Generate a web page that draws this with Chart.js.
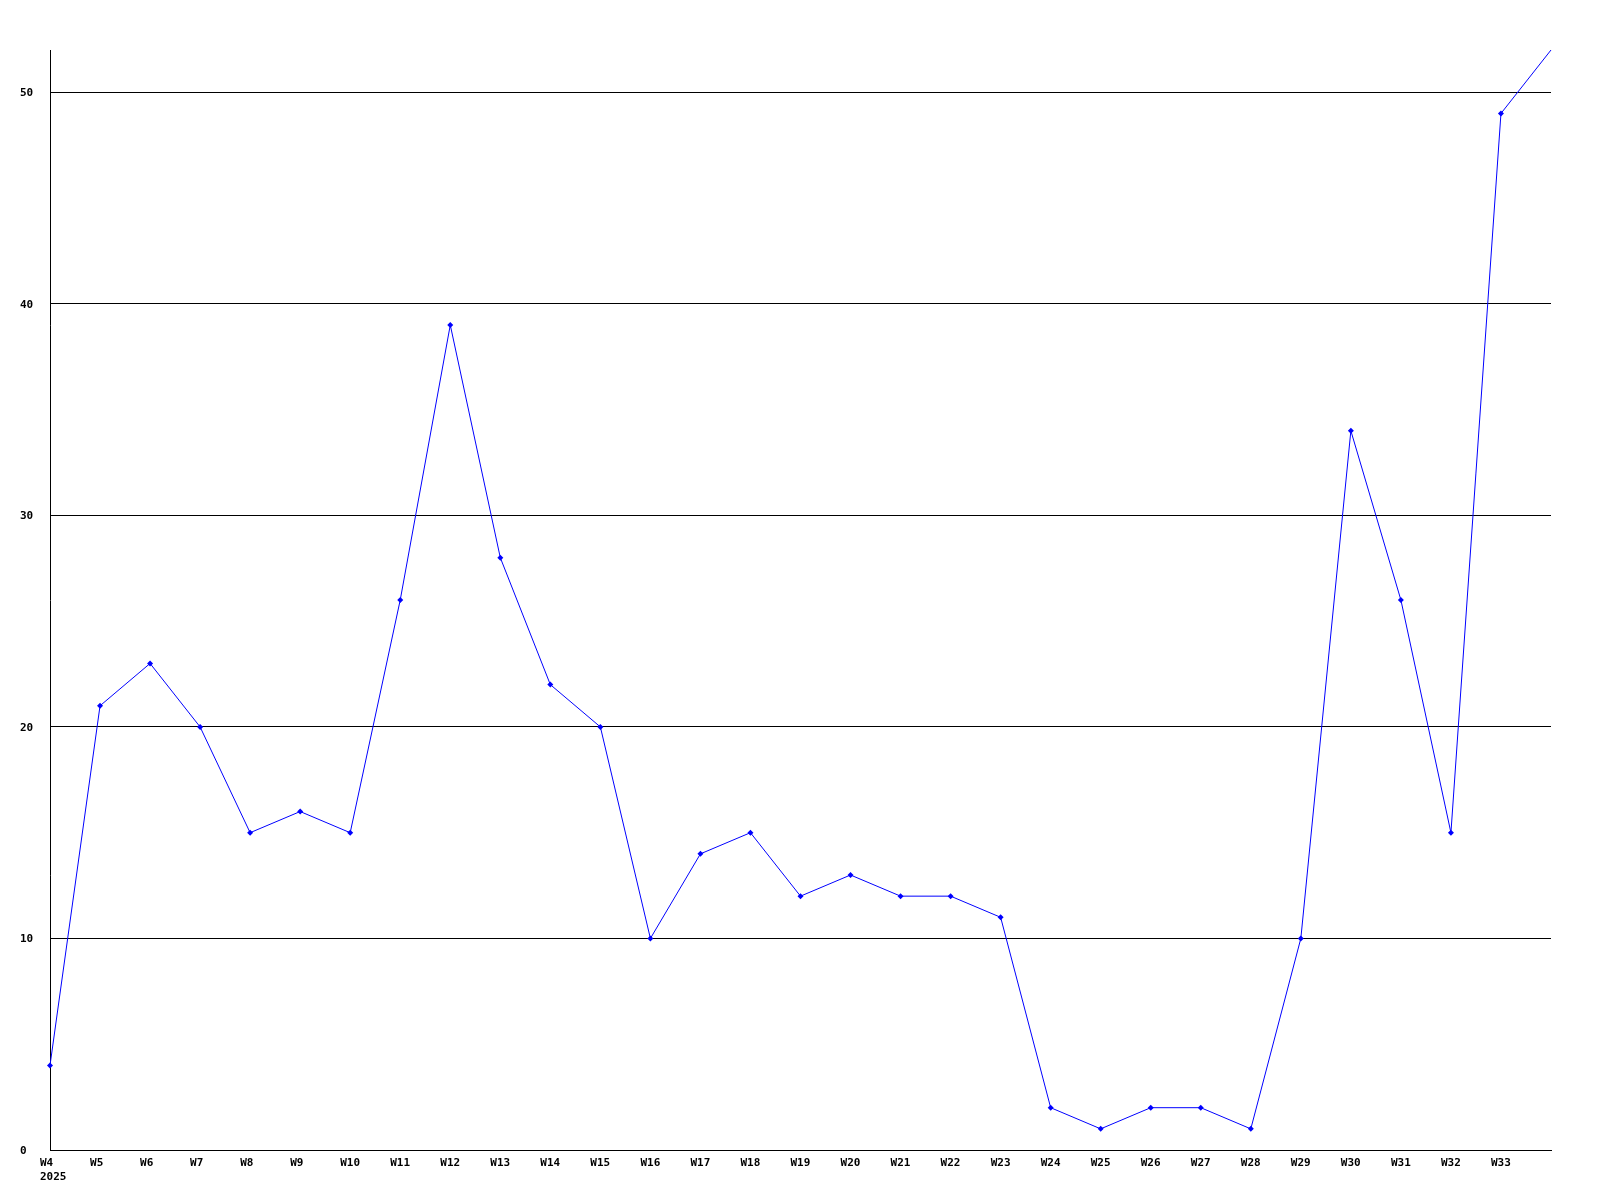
<!DOCTYPE html>
<html>
<head>
<meta charset="utf-8">
<script src="https://cdn.jsdelivr.net/npm/chart.js@4/dist/chart.umd.min.js"></script>
<style>
html,body{margin:0;padding:0;background:#fff;}
#wrap{width:1600px;height:1200px;position:relative;}
</style>
</head>
<body>
<div id="wrap"><canvas id="c" width="1600" height="1200"></canvas></div>
<script>
const weeks = ["W4","W5","W6","W7","W8","W9","W10","W11","W12","W13","W14","W15","W16","W17","W18","W19","W20","W21","W22","W23","W24","W25","W26","W27","W28","W29","W30","W31","W32","W33","W34"];
const yearLabel = "2025";
const counts = [4,21,23,20,15,16,15,26,39,28,22,20,10,14,15,12,13,12,12,11,2,1,2,2,1,10,34,26,15,49,52];
const yMin = 0;
const yMax = 52;
const yStep = 10;

const FONT = {family: "'DejaVu Sans Mono', monospace", size: 11, weight: 'bold', lineHeight: 1.3};

new Chart(document.getElementById('c'), {
  type: 'line',
  data: {
    labels: weeks,
    datasets: [{
      data: counts,
      borderColor: '#0000ff',
      backgroundColor: '#0000ff',
      borderWidth: 1,
      pointStyle: 'rectRot',
      pointRadius: ctx => ctx.dataIndex === counts.length - 1 ? 0 : 3,
      pointBorderWidth: 0,
      tension: 0,
      fill: false
    }]
  },
  options: {
    responsive: false,
    animation: false,
    devicePixelRatio: 1,
    layout: {padding: {left: 20, right: 49, top: 50, bottom: 0}},
    plugins: {legend: {display: false}, tooltip: {enabled: false}},
    scales: {
      x: {
        type: 'category',
        offset: false,
        grid: {display: false, drawTicks: false},
        border: {display: true, color: '#000', width: 1},
        ticks: {
          color: '#000',
          font: FONT,
          autoSkip: false,
          maxRotation: 0,
          minRotation: 0,
          align: 'start',
          labelOffset: -10,
          padding: 6,
          callback: function(v, i) {
            if (i === weeks.length - 1) return '';
            if (i === 0) return [weeks[i], yearLabel];
            return weeks[i];
          }
        },
        afterFit: s => { s.height = 50; }
      },
      y: {
        min: yMin,
        max: yMax,
        grid: {display: true, drawTicks: false, color: '#000', lineWidth: 1},
        border: {display: true, color: '#000', width: 1},
        ticks: {
          stepSize: yStep,
          includeBounds: false,
          color: '#000',
          font: FONT,
          crossAlign: 'far',
          labelOffset: 1,
          padding: 0
        },
        afterFit: s => { s.width = 30; }
      }
    }
  }
});
</script>
</body>
</html>
